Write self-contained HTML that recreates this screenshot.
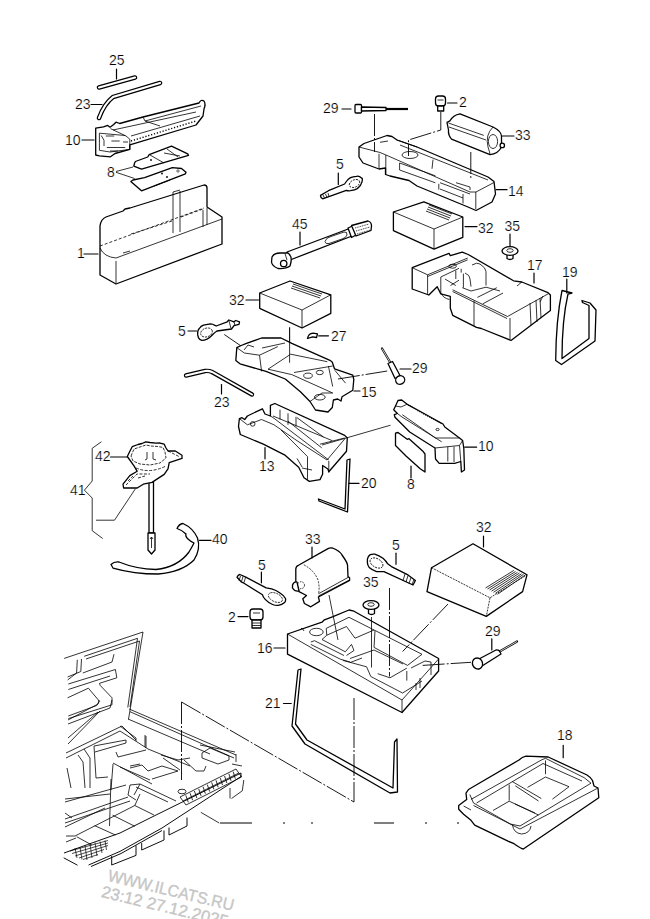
<!DOCTYPE html>
<html><head><meta charset="utf-8">
<style>
html,body{margin:0;padding:0;background:#fff;}
svg{display:block;}
text{font-family:"Liberation Sans",sans-serif;font-size:14px;fill:#000;stroke:#fff;stroke-width:0.2;}
.l{stroke:#000;stroke-width:1.2;fill:none;stroke-linejoin:round;stroke-linecap:round;}
.t{stroke:#000;stroke-width:0.8;fill:none;}
.f{stroke:#000;stroke-width:1.3;fill:#fff;stroke-linejoin:round;}
.d{stroke:#000;stroke-width:0.9;fill:none;stroke-dasharray:22 2 2 2;}
.wm{font-size:16.5px;fill:#c6c6c6;stroke:#c6c6c6;stroke-width:0.35;}
</style></head>
<body>
<svg width="650" height="919" viewBox="0 0 650 919">
<g id="labels">
<text x="109" y="65">25</text>
<text x="75" y="109">23</text>
<text x="65" y="145">10</text>
<text x="107" y="177">8</text>
<text x="77" y="258">1</text>
<text x="323" y="113">29</text>
<text x="459" y="107">2</text>
<text x="515" y="140">33</text>
<text x="336" y="169">5</text>
<text x="508" y="196">14</text>
<text x="292" y="229">45</text>
<text x="478" y="233">32</text>
<text x="504.5" y="231">35</text>
<text x="527" y="270">17</text>
<text x="562" y="277">19</text>
<text x="229" y="305">32</text>
<text x="178" y="336">5</text>
<text x="331" y="341">27</text>
<text x="412" y="373">29</text>
<text x="361" y="397">15</text>
<text x="214" y="407">23</text>
<text x="478" y="451">10</text>
<text x="259" y="471">13</text>
<text x="407" y="489">8</text>
<text x="361" y="488">20</text>
<text x="95" y="461">42</text>
<text x="70" y="495">41</text>
<text x="212" y="544">40</text>
<text x="305" y="544">33</text>
<text x="258" y="570">5</text>
<text x="392" y="550">5</text>
<text x="476" y="532">32</text>
<text x="363" y="587">35</text>
<text x="228" y="622">2</text>
<text x="257" y="653">16</text>
<text x="485" y="636">29</text>
<text x="265" y="708">21</text>
<text x="557" y="740">18</text>
</g>

<g id="p-topleft">
<!-- 25 rod -->
<path d="M99,87.5 L135,77.5" stroke="#000" stroke-width="4.6" stroke-linecap="round" fill="none"/>
<path d="M99,87.5 L135,77.5" stroke="#fff" stroke-width="2.2" stroke-linecap="round" fill="none"/>
<path class="l" d="M116.5,69 V79"/>
<!-- 23 rod -->
<path d="M99,118 Q104,104 113,97 L160,83" stroke="#000" stroke-width="4.6" stroke-linecap="round" fill="none"/>
<path d="M99,118 Q104,104 113,97 L160,83" stroke="#fff" stroke-width="2.2" stroke-linecap="round" fill="none"/>
<path class="l" d="M91,104.5 H102"/>
<!-- 10 jack top -->
<path class="f" d="M95.7,128.2 L103.5,126.8 L107.7,125.4 L110,127.2 L113.7,124.5 L116,122.2 L119.7,123.5 L143,117 L199,103 Q201,99 204,101 Q206,104 204,109 L203,116 L196,125 L129.8,144.8 V149.4 L115,153.5 L110.5,156.8 L99.4,155.8 L95.7,155 Z"/>
<path class="t" d="M110.5,128.6 L126,136 L129.8,139.2 V149.4 M99.4,133.2 V150.3 L110,152 L129.8,149.4 M99.4,133.2 L125.2,135.5 M101.2,135.5 L104,140.2 V146 M143,117 L145,121 L201,106 M131,136 L200,116 M113,130 L196,112 M145,121 L160,126"/>
<path class="t" stroke-width="1" d="M105.8,136 H114.2 M111.4,141 H119.7 M123,142 H128 M106.8,147.5 H125.2 M110,151 H118"/>
<path d="M131,141 L196,121" stroke="#000" stroke-width="1.4" stroke-dasharray="1.2 1.8" fill="none"/>
<path class="l" d="M82,140 H94"/>
<!-- 8 plates -->
<path class="f" d="M134.6,163 L133.8,166.2 L141.5,169.2 L188.5,155.4 L187.7,153.8 L171.5,146.2 L149.2,154.6 L147.7,157 L135.4,161.5 Z"/>
<path class="t" d="M150,155 L164,163 M164,153 L180,156 M167,149 L178,157"/>
<path class="f" d="M130.8,181.5 L141.5,190.8 L185.4,173.8 L186,172.3 L181.5,168.5 L172.3,167.7 L144.6,177.7 L133,180 Z"/>
<circle cx="151" cy="160" r="0.9"/><circle cx="162" cy="173.5" r="0.9"/><circle cx="167" cy="177" r="0.9"/><circle cx="178" cy="171" r="1.2" fill="none" stroke="#000" stroke-width="0.6"/>
<path class="t" d="M116,171.5 L133,167 M116,172.3 L134.6,178.5 M154,186 L170,180"/>
<!-- 1 box -->
<path class="f" d="M100,226 Q101,219 106,217 L123,211 L125,209 L130,208 L204,185 Q207,185 207,188 L207,207 L222,217 L222,244 L116,284 L100,275 L100,248 Z"/>
<path class="t" d="M100,248 Q104,257 116,258 L222,219 M116,261 V283 M203,210 V227 M207,208 V225 M173,192 V233 M180,191 V232 M173,192 L180,190 M123,253 L130,251"/>
<path class="t" stroke-dasharray="3 2" d="M100,246 L204,208 M131,234 L172,221 M181,217 L203,209"/>
<path class="l" d="M84,254 H98"/>
</g>

<g id="p-topright">
<!-- 29 bolt -->
<path class="l" d="M342,109 H351"/>
<rect x="355" y="104.5" width="6.5" height="8.5" rx="1" class="f"/>
<path class="f" d="M361.5,107 L386,107.5 L386,110.5 L361.5,111 Z"/>
<path d="M386,109 L408,109" stroke="#000" stroke-width="2.2" fill="none"/>

<!-- 2 plug -->
<rect x="435.5" y="96" width="10" height="10" rx="3" class="f"/>
<path class="t" d="M437.5,100 H443.5"/>
<rect x="437.7" y="106" width="6" height="5" class="f" stroke-width="1"/>
<path class="l" d="M447.5,103 H457"/>

<!-- 14 tray -->
<path class="f" d="M359,147 L364,143.5 L387,135.5 L392,136.5 L397,140 L417,147 L488,177 L494,181.5 L495.5,194 L492,202 L476,210.5 L468,207 L417,186 L409,180.5 L390,176 L385.5,174.5 L385.5,168 L379,169 L363,163 L359,157 Z"/>
<path class="t" d="M359,147 L380,152.5 L386,155 L470,192 L476,192 L494,182.5 M379,153.8 V168.8 M385.8,155 V174.6 M399.6,163 L435.4,175.8 M399.6,170 L435.4,182.8 M399.6,163 V170 M440,182.7 L470,194 M440,189 L463,198 M463,194 V203.5 M475.8,192 V209 M438.8,183.8 V189.6 M433,159.6 L432,168.8 M456,182.7 L470,187 V190 M380,142.3 L388,141 M397,140 L417,147 M400,145 L488,180"/>
<ellipse cx="410" cy="155" rx="8" ry="3.5" class="t"/>
<path class="l" d="M496,189.7 H507"/>

<path class="d" d="M374.5,114 V152"/>
<path class="d" d="M440.8,112 V130 L408.5,140 V156"/>
<path class="d" d="M470.8,152 V178"/>
<!-- 33 cylinder -->
<path class="f" d="M450,120.8 Q453,115 460,113.8 L493,127 Q501,131 501.5,136 L501.5,147 Q498,154 490,154.6 L451.5,139.2 Q448,135 448.5,130 L447,122.3 Z"/>
<path class="t" d="M448.5,123 L483.8,135.4 M449,127 L486,140 M493,127 Q485,135 488,147 Q490,153 490,154.6"/>
<ellipse cx="493" cy="141.5" rx="4.6" ry="7" class="t"/>
<circle cx="502.3" cy="145.4" r="2.2" class="f" stroke-width="1"/>
<path class="l" d="M502.5,136 H514"/>
<!-- 5 wrench upper -->
<path class="f" d="M320.5,195.4 Q320.5,197.5 322.6,198.8 L346.3,190.3 Q348,191 350.5,190.7 Q355,190 357.3,188.6 Q361,186 362,181.8 Q363,178 361.5,178 Q359,175.5 356.5,176.3 Q353,176.5 350.5,177.6 Q348,179 346.7,181 L344.6,184 L328.5,190.7 Z"/>
<ellipse cx="354.5" cy="183.5" rx="5.5" ry="3.6" transform="rotate(-25 354.5 183.5)" class="t" stroke-dasharray="2 1"/>
<path class="t" d="M323,195 L324.5,198 M325.5,194 L327,197.5 M328,193 L329,196.5"/>
<path class="l" d="M338.3,173 V184.5"/>
<!-- 45 extension -->
<path class="f" d="M287,252 L349.5,228.5 L352,236 L290,260 Z"/>
<path class="t" d="M325,241.5 Q326,237.5 331,236.5 L344,232 Q347.5,231.5 347,235 Q346,238 342,239 L329,243.5 Q325.5,244.5 325,241.5 Z"/>
<path class="f" d="M348,228 L352.5,226 L356,235 L351.5,237.5 Z"/>
<path class="f" d="M351.5,225.5 L368,221 Q371.5,222 371.5,226 L371,230.5 L356,236 Z"/>
<path class="t" stroke-width="0.8" stroke-dasharray="1 0.8" d="M355,228 L369,224 M356,231 L370,227 M357,234 L370.5,230"/>
<path class="f" d="M272,257 Q274,253 280,253 L288,253 Q292,256 291,262 L290,266 Q286,269 278,268.5 Q272,266 271.5,262 Z"/>
<circle cx="283.7" cy="263.5" r="3.2" class="f" stroke-width="1.1"/>
<path class="t" d="M285,253.5 L287,260"/>
<path class="l" d="M300,232 V245"/>
<!-- 32 box upper -->
<path class="f" d="M393.4,212 L423.8,201.8 L462.8,217 L462.8,237.4 L434,249.2 L393.4,230.6 Z"/>
<path class="t" d="M393.4,212 L434,229 L462.8,217 M434,229 V249"/>
<path class="t" stroke-width="0.7" d="M429,205 L452,214 M428,207 L451,216 M427,209 L450,218 M426,211 L449,220"/>
<path class="l" d="M465,226.6 H477"/>
<!-- 35 clip upper -->
<path class="f" d="M507,253 V258.5 Q510,260.5 513,258.5 V253 Z"/>
<ellipse cx="510" cy="251" rx="8" ry="4.3" class="f"/>
<ellipse cx="510" cy="250.5" rx="3.2" ry="1.8" class="t"/>
<path class="l" d="M510,234 V246"/>
<!-- 17 tray -->
<path class="f" d="M412.2,267.7 L449.1,253.3 L450.3,255.7 L462.2,252.2 L468.2,254.5 L513.5,280.8 L521.8,282 L548,292.7 L550.4,295 L550.4,310.6 L511,340.4 L481.3,328.5 L476.5,327.3 L452.7,315.3 L450.3,308.2 L450.3,296.3 L440.8,293.9 L437.2,286.7 L428.8,295 L412.2,289 Z"/>
<path class="t" d="M412.2,267.7 L427.6,274.8 L467.7,258 M427.6,276.5 L467.7,259.8 M427.6,274.8 V293.9 M440.8,277 V293 Q443,298 449.4,299.5 M440.8,277 L459,268.3 M455.8,270.5 V279 M461.2,268.8 V272.6 M445,279 L455.8,285.5 M459,280.2 L450.5,285.5 M463.4,273.7 V287.7 M465,273 Q470,275 470,279 L471,286.6 M472,265 Q477,262 480,264 Q486,268 486,271.5 V285.5 M462.3,287.7 L471,291 L486,287.2 L500,291 M452.6,289.8 L507.5,316.5 L548,293.9 M452.6,291.5 L507,318.5 M477.4,297.4 L496.8,287.7 M482.8,303.8 L503,293 M474,300.6 V326 M510,318 V339 M521.8,282 L517,286 M536,300 L537,322 M540,298 L541,318 M530,303 L531,325 M543,296 L540,302"/>
<ellipse cx="452.6" cy="266.2" rx="3.8" ry="2" class="t"/>
<path class="l" d="M534,273 V283"/>
<!-- 19 strap -->
<path class="f" stroke-width="1.4" d="M562,290.5 Q556,320 555.7,360.5 L561.5,364.5 L595,341 L596,310 L590,303 L582,300.5 L582.5,302.5 L589,305.5 L589,338.5 L562,358.5 Q562,320 568,294 L572,293 Z"/>
<path class="l" stroke-width="1.6" d="M566.8,279 V293"/>
</g>

<g id="p-mid">
<!-- 32 box mid -->
<path class="f" d="M259.7,293 L290,281 L330.8,294.8 L330.8,313.4 L302,328 L259.7,308.3 Z"/>
<path class="t" d="M259.7,293 L302,310 L330.8,294.8 M302,310 V328"/>
<path class="t" stroke-width="0.7" d="M293,284 L322,294 M292,286 L321,296 M291,288 L320,298"/>
<path class="l" d="M246,300 H258.5"/>
<path class="t" d="M289.6,328 V362.8"/>
<!-- 5 wrench mid -->
<path class="f" d="M197.6,334.5 Q197.5,330 199.3,328.5 Q201,326 203.5,325.2 L210.3,323.9 Q213,324 214.5,325.2 L216.2,326 L227.2,321.8 L228.9,320 L234,321.8 L235.7,320.5 L239.5,321.8 L239,324.3 L234,325.6 L231.5,329 L217,331 Q214,333 212.8,334.5 Q210,337.5 207,339.1 Q204,340.5 201.8,340.4 Q199,339.5 198.5,337.8 Z"/>
<ellipse cx="206.5" cy="332.5" rx="6" ry="4.3" transform="rotate(-20 206.5 332.5)" class="t" stroke-dasharray="2 1"/>
<path class="t" d="M229,321 L231,328.5 M234,322 L235,325.5"/>
<path class="l" d="M188,331 H196.5"/>
<path class="d" d="M224.3,334.5 L245.4,349"/>
<!-- 27 -->
<path class="f" stroke-width="1.2" d="M307.5,338.5 Q308.5,333.5 313,333.2 L317.5,333.8 L316.5,337.5 L312.5,336.8 Z"/>
<path class="l" d="M318.7,335.8 H328.5"/>
<!-- 15 tray -->
<path class="f" d="M236.8,347.7 L241.2,345.5 L246.5,343.4 L261.6,338 L281,338 L291.8,343.4 L330.5,360.6 L332.3,362.3 L334.5,368.8 L352.8,375.2 L353.8,379.5 L352.8,390.3 L342,396.8 L341,401 L337.7,399 L333.4,400 L332.3,407.5 L328,412 L315.5,410 L310,401.5 L300.4,391.8 L285.3,379 L266,371.4 L240,363.8 L235.8,360.6 Z"/>
<path class="t" d="M236.8,347.7 L244.4,353 L259.5,355.2 L277.8,346.6 M259.5,355.2 L261.6,371.4 M268,369.2 L290.7,354.2 L327.3,361.7 M268,369.2 L291.8,374.6 L332.7,393 M294,372.5 L332.7,366 M328.4,366 L332.7,386.5 M334.8,370.3 L345.6,383.2 M244,350 L248,345 L254,347 M262,348 L285,343 M310,401.5 L322,393 L332.7,393"/>
<ellipse cx="308" cy="375.7" rx="4.3" ry="2.6" class="t"/>
<ellipse cx="319.8" cy="372.5" rx="3.5" ry="2.2" class="t"/>
<ellipse cx="319.8" cy="397.2" rx="5.4" ry="2.8" class="t"/>
<path class="t" d="M289.6,362.8 V327"/>
<path class="l" d="M354,391 H360"/>
<path class="d" d="M338,379 L387.2,371"/>
<!-- 29 mid -->
<path d="M382,348.5 L390,362" stroke="#000" stroke-width="2.2" stroke-linecap="round" fill="none"/>
<path d="M382,348.5 L390,362" stroke="#fff" stroke-width="0.8" fill="none"/>
<path class="f" d="M388,363.5 L392.5,361.5 L400,375.5 L395,378.5 Z"/>
<ellipse cx="400.2" cy="380" rx="4.6" ry="4.2" transform="rotate(-30 400.2 380)" class="f"/>
<path class="l" stroke-width="1.6" d="M400,369 H411"/>
<!-- 23 rod mid -->
<path d="M186,375.5 L205,371 Q209,370.5 212,372 L252,394.5" stroke="#000" stroke-width="4.4" stroke-linecap="round" fill="none"/>
<path d="M186,375.5 L205,371 Q209,370.5 212,372 L252,394.5" stroke="#fff" stroke-width="2" stroke-linecap="round" fill="none"/>
<path class="l" d="M221.5,384.6 V394"/>
<!-- 13 -->
<path class="f" d="M239.4,418.6 L242,417.7 L244.7,419.5 L247.4,416 L262.4,408.8 L265,414 L270.4,416 L270.4,405.3 L274.8,403.5 L344.7,435.4 L347.3,438 L346.5,451.3 L328.8,471.7 L327.9,469 L322.6,465.5 L322.6,474.3 L320,479.6 L309.3,481.4 L304,477.8 L298.7,467.2 L284.5,454.8 L263.3,444.2 L240.3,434.5 L238.5,426.5 Z"/>
<path class="t" d="M239.4,418.6 L247.4,424.8 L261.5,419.5 L274,424.8 L297,440.7 L327,460 L344.7,439 M273,416 L332.3,440.7 M280,409.7 V419.5 M288,413.3 V424.8 M296,416.8 V426.5 M272,416.8 L328.8,460 M281,430 L307.5,456.6 M288,421.2 L321.7,447.8 M297,417.7 L323.5,437 M320,444.2 L344.7,438 M297,458.4 L302.2,467.2 M307.5,456.6 V479.6 M328.8,461 V472.5 M302,468 L312,470 M270.4,416 L272,417"/>
<circle cx="252.7" cy="423.9" r="2.3" class="t"/>
<path class="l" d="M265,447.7 V458.8"/>
<path class="t" d="M322,445 L390.5,425.2"/>
<!-- 20 -->
<path class="f" stroke-width="1.2" d="M347,460 L350,459 L347.5,512 L319,501 L318.5,499 L345,509 Z"/>
<path class="l" d="M349,483.4 H359"/>
<!-- 10 mid -->
<path class="f" d="M398,400.5 L401.7,400 L407.2,404.2 L443,424 L444.8,427 L459.5,438 L462.6,440.5 L463.8,448 L464.5,470 L461.4,472 L460.8,461.5 L454.6,463.3 L450.3,463.3 L439.2,463.3 L435.5,459 L435,448 L409.7,432 L395,417.2 L394.3,414.7 L397.4,413.5 L393.7,409.8 L395.5,406 Z"/>
<path class="t" d="M395.5,406 L401,407 L407.2,404.2 M402.3,414.7 L435.5,438 L459.5,438 M397.4,413.5 L402,417 L441.7,441.8 M435,448 L459.5,445.5 L462.6,440.5 M447.8,446.7 V461.5 M454,446.7 V462 M459.5,445.5 L460.8,461.5"/>
<path d="M408,405 L442,424" stroke="#000" stroke-width="1.3" stroke-dasharray="1 1.2" fill="none"/>
<ellipse cx="437.5" cy="429.5" rx="1.6" ry="1.1" class="t"/>
<path class="l" d="M464.8,447.2 H476.6"/>
<!-- 8 mid -->
<path class="f" d="M395.5,433.2 L398,432.5 L407.2,439.3 L409,438.7 L423.2,451.6 L425,454 L425,472 L420.2,468.8 L406,456 L395.5,445.5 Z"/>
<path class="l" d="M411,466 V478"/>
</g>

<g id="p-41">
<!-- 41 bracket -->
<path class="t" stroke-width="1.15" d="M101.4,441.8 L92.2,448.3 V481 L84.4,490.2 L92.2,498 V530.7 L102.7,538.5"/>
<path class="t" stroke-width="1.15" d="M135.4,488.8 L114.5,520.2 H96"/>
<!-- shaft -->
<path class="f" stroke-width="1" d="M149,482 H153.5 V533 H149 Z"/>
<path class="f" d="M148,533 H155 V550 L151.5,554 L148,550 Z"/>
<path class="t" d="M151.5,537 V548 M150,539 L151.5,537 L153,539"/>
<!-- 42 knob -->
<path class="f" d="M127.3,456.5 L130,451 L132.2,446.7 L138,444.5 L142,443.5 L145.8,441.8 L150,442.5 L156,443.2 L160,443 L164.2,444.2 L166,448 L168,451 L175.3,451 L182,455.3 L182,458.4 L169.2,462.7 L168,468.8 L164.2,474.4 L152,482.4 L143.3,484.2 L137.2,488 L123.6,488 L123,484.2 L129.8,475.6 L137.2,471.3 L134,465.8 Z"/>
<path class="t" stroke-dasharray="3 1.2" d="M131,456 L134,449 L140,447 L146,445 L151,446 L158,446.5 L163,447.5 L165,452 L166,458 L160,463 L150,465 L140,464 L133,461 Z"/>
<path class="t" stroke-dasharray="3 1.5" d="M136,468 Q150,474 166,466 M126,485 L137,474 L150,474 M168,451 L180,457 M138,478 L145,476 M128,481 L133,476"/>
<path class="t" d="M147,452 V459 L145,460 M153,452 V459 L156,460"/>
<path class="l" d="M110.5,457 H127"/>
<!-- 40 -->
<path class="f" d="M111,564.5 Q114,561.5 119,562 Q136,569 156,569.5 Q178,567 189,552 Q192,547 194,543 Q190,541 188,539 Q185,536 186,534 Q182,530 177,528.5 Q179,524 183,523.5 Q193,528 197.5,538 Q201,549 194,560 Q182,572 158,574 Q134,574 113,568 Z"/>
<path class="l" d="M199.5,540.4 H211"/>
</g>
<g id="p-bottom">
<!-- 33 lower -->
<path class="f" d="M295.8,569 Q296,566 298.5,565.3 L328,548.6 Q330,547.5 332.4,548 Q340,551 342,555 Q347,562 347.5,564.8 L348,576.6 L349.6,577.7 L349.6,580.4 L318.4,597 L319.5,601.4 L310.8,606.8 L304.4,603.5 L302.8,598.7 L306.5,595.5 L299,591.7 L295.8,581 Z"/>
<path class="t" stroke-dasharray="2 1.2" d="M303.8,564.8 Q314,570 318,580 Q320,588 318.4,593.8"/>
<circle cx="301" cy="585.2" r="3.5" class="t" stroke-dasharray="1.5 1"/>
<path class="f" stroke-width="1" d="M292.5,585 Q294,581 297,582 L299,591 Q295,592 292.5,588 Z"/>
<path class="t" d="M318.4,593.8 L348.5,577.2 M318.4,596 L349.6,580"/>
<path class="l" stroke-width="1.4" d="M312,547 V558"/>

<!-- 5 lower left -->
<path class="f" d="M237,577.2 Q238,575 239.8,574.5 L245.8,577.2 L266.2,587.8 L271.7,588.8 Q276,590 280,593 Q284,595.5 285.5,598.5 Q286,601 284.6,602.6 Q282,605 278.2,605.4 Q275,605.5 272.6,604.5 Q268,602.5 265.2,599.4 Q263,597 262.5,594.8 L244,583.2 L241.2,581.8 Z"/>
<ellipse cx="275.4" cy="597.5" rx="7.5" ry="4.2" transform="rotate(25 275.4 597.5)" class="t" stroke-dasharray="2 1"/>
<path class="t" d="M240.5,576 L239,580.5 M243,576.5 L241.5,581.5 M245.5,577.5 L244,582.5"/>
<path class="l" d="M261.4,572 V582.8"/>
<!-- 2 lower -->
<rect x="250" y="609" width="13" height="11" rx="3" class="f"/>
<path class="t" d="M253,613 H260"/>
<rect x="252" y="620" width="9" height="8" class="f" stroke-width="1"/>
<path class="t" d="M252,623 H261 M252,625.5 H261"/>
<path class="l" d="M238,616.6 H248"/>
<!-- 5 lower right -->
<path class="f" d="M367.4,559.2 Q368,556 370.2,554.6 Q372,554 374.8,554.2 Q379,555.5 383,558.3 Q386,561 387.7,563.8 L391.4,566.6 L408,574.9 L415.4,580.5 L413,585 L384,571.7 L376.6,571.7 Q372,570 369.2,567.5 Q367.5,565 367.4,562.9 Z"/>
<ellipse cx="376.5" cy="563" rx="7" ry="4.3" transform="rotate(30 376.5 563)" class="t" stroke-dasharray="2 1"/>
<path class="t" d="M405,574 L403,580.5 M408,575.5 L406,582 M411,577.5 L409,583.5 M414,579.5 L412,584.5"/>
<path class="l" stroke-width="1.4" d="M396,553.2 V564.3"/>
<!-- 35 lower -->
<path class="f" d="M368.5,607 V613.5 Q371.5,615.5 374.5,613.5 V607 Z"/>
<ellipse cx="371" cy="605" rx="8" ry="4.4" class="f"/>
<ellipse cx="371" cy="604.5" rx="3.2" ry="1.8" class="t"/>

<!-- 16 tray -->
<path class="f" d="M287.5,634 L322,622.2 L324.4,619.8 L333,616.7 L349,610 L354,611.2 L438.6,658.5 L438.6,671 L402,712.5 L287.5,654.2 Z"/>
<path class="t" d="M287.5,634 L402,700 L438.6,659 M402,700 V712.5"/>
<path class="t" stroke-width="0.8" d="M326.2,628.4 L349,617.3 L422,654.3 L407.5,665.4 L374,647.4 L375,630.8 M326.2,628.4 L326.8,635.2 L322,639.5 L345.3,651.8 L351.5,644.4 L354,650.5 L346.5,655.5 M326.8,635.2 L346.5,626.5 L355,638.2 L374,630 M310.8,642 L314.5,640.7 L344,655.5 M310.8,644.4 L340.4,659.2 L350,662 M342.8,660.4 L366.6,666.8 L370.8,676.5 L402.6,693 L422,681 M377.7,673.7 L390,677.8 L406.8,668.2 M350,658.5 L374,650 M350,662.6 L362,658 M374,650 L403,664 M406.8,671 V680.6 M411,668 L425,661 L431,662 V675 M416,683 V690 M420,678 V688"/>
<ellipse cx="316.4" cy="632" rx="6.8" ry="3.7" class="t"/>
<path class="t" d="M300,630 L302,628 L304,631"/>
<path class="l" d="M274,648 H285"/>

<path class="d" d="M448,604 L402.6,651.5"/>
<path class="d" d="M422.7,665.4 L471,662.3"/>
<path class="t" d="M371.5,617 V667.5"/>
<path class="d" d="M389.5,588 V676.5"/>
<path class="t" d="M329,595 L338,640"/>
<!-- 32 lower -->
<path class="f" d="M431.5,567.7 L473,543.8 L527,574.8 L522.6,591.6 L486.3,616.4 L427,591.6 Z"/>
<path class="t" stroke-dasharray="2 1" d="M431.5,567.7 L490,597.8 L527,574.8 M490,597.8 L486.3,616.4"/>
<path class="t" stroke-width="0.9" d="M485.5,588 L513.8,570.4 M487.5,589 L515.5,571.5 M489.5,590 L517.5,572.3 M491.5,591.2 L519.5,573 M493.5,592.3 L521.5,573.8 M495.5,593.3 L523.5,574.3 M497.5,594.3 L525.5,574.8"/>
<path class="l" d="M483.5,536 V547"/>
<!-- 29 lower -->
<path d="M497,653 L517,641.5" stroke="#000" stroke-width="2.2" stroke-linecap="round" fill="none"/>
<path d="M497,653 L517,641.5" stroke="#fff" stroke-width="0.8" fill="none"/>
<path class="f" d="M478,659.5 L496,650 Q499,649.5 500,652 L501,654 L482,666 Z"/>
<ellipse cx="477.5" cy="663.5" rx="5" ry="5.6" transform="rotate(-25 477.5 663.5)" class="f"/>
<path class="l" d="M491.8,638.8 V650"/>
<!-- 21 -->
<path class="f" stroke-width="1.2" d="M298,670 L301,669 L295.5,724 L307,740 L393,788 L394.5,742 L397,739 L397.5,792 L390,793 L305,744 L292,726 Z"/>
<path class="l" d="M283.5,703.5 H291.2"/>
<path class="d" d="M354,698 V802"/>
</g>

<g id="p-18">
<path class="f" d="M466,793.2 L468.5,789.5 L519,760 Q522,757 526,756.2 L548.2,757 L587,775 Q591,777.5 592.5,780.5 L594,786 L598,788 L598.8,797.8 L523.3,849 Q521,848.6 514,843.7 L508,841.2 L474.7,825.2 L471,820.3 L463.6,814.2 L458.7,809.2 V805.5 L463.6,801.8 L466.7,799.4 Z"/>
<path class="t" d="M471,799.4 L542,759.7 L545.5,758.3 L584.2,777.7 L591,783.2 M476.5,803 L543,763.5 L582,781 M473.5,803 L510.4,824 M473.5,805.5 L520,829 L598,788 M510.4,824 L520,826 L591,783.2 M469.8,794.5 L473.5,803 M509.2,784.6 V800.6 M493,810.5 L509.2,801.2 L535,813 M512.2,781.5 L541.3,798.5 M515.3,785.8 L538.5,801 M545.5,760.4 V774.2 M527.5,787.4 L545.5,777 L569,786.7 L552.4,799.2 M515,804 L538.5,815 M463.6,806 L471,810"/>
<path class="t" d="M512.5,825 Q513.5,833 521.5,834 Q530,833.5 531,826"/>
<path class="l" d="M563.2,745.4 V757.7"/>
</g>
<g id="p-car" class="t" stroke-width="0.85">
<!-- lid -->
<path d="M64.2,658.4 L143,632 L128.5,719.3 M84.2,656.3 L137.5,638.3 L127.8,707.5 M86,659 L139.5,641 L130,707"/>
<path d="M81.5,659 L80.8,671.5 L67.6,677 M77.3,659.8 L76.6,673 L67.6,680 M82.8,673 L112,662 L114,654.2 M68.3,684 L115.4,669.5 L116.8,677.8 L99.5,683.3 L100.2,685.4 L112,697.8 V704.8 L68.3,718.6 M68.3,689.5 L110,676 M67.6,697.8 L88.4,688.2 L99.5,701.3 L96.7,705.5 L68.3,716"/>
<path d="M68,720 L98,704 L99,700 M68,724 L110,708 L112,700 M68,738 L98,712 M68,744 L100,711 M129.2,709 L236,755 M130,711.7 L234,758 M128,719 L210,754"/>
<!-- floor interior -->
<path d="M66,753 L122,726 L136,740 M66,758 L120,731 L148,749 L190,766 M146,736 V748 M94,746 L126,740 V743 L95,752 M94,746 L96,778 L108,777 M116,752 L118,757 L146,750 M84,749 L90,758 V788 M78,755 L83,762 L85,788 M67,768 L71,788 M113,764 L111,790 M113,763 L152,784 M130,768 L142,765 L148,771 L162,766 L178,771 L152,779 M161,755 L178,760 L190,758"/>
<path d="M145,735 V747 M120,726 L136,738 V741 M202,753 L210,748 L229,756 V760 L218,764 L202,758 Z M236,754 V762 M232,764 L242,766 M184,760 L196,771 L204,771 L206,766 M130,766 L140,764 M163,758 L180,770 M120,767 L150,780 M200,745 L235,752"/>
<!-- floor box, rails -->
<path d="M65,799 L110,794 M65,802 L126,785 M65,819 L128,797 M65,823 L130,801 M65,827 L105,808 M65,813 L72,818 M111,779 L109.5,826 M130,785 L140,784 L176,801 M136,787 L168,802 M75,836 L134.8,805.5 L140,794 M94.6,825.6 L115.4,835 M112.6,815.2 L134.8,826.3 M134.8,805.5 L154,815 M76.6,836.7 L91.8,845 M130,785 L128,795 L136,800 M140,784 L134,795 M66,836 L75,836 M66,842 L76,838"/>
<!-- bumper -->
<path stroke-width="0.95" d="M64,853 L87.7,844.5 L120,833 L150,818 L241,773 M88.6,865 L120,851.4 L162,828 L241,776.5 M91,866.5 L121,853.5 L162,830.5 M63.7,857.8 L77.5,865.2 M111.7,856 V865 L136,855.4 V845.5 M141.7,843 V850 L164,840 V830.5 M169,827.5 V835 L187,826 V817.5 M241,773 V777"/>
<path d="M230,788 V798.5 M243.8,780 L242.3,790.8 L231.5,798.5 M200.8,812.3 L219.2,823 M180,797 L236,769 M186,805 L241.6,777 M180,797 L186,805 M236,769 L241.6,777"/>
<ellipse cx="182" cy="791.5" rx="4" ry="2.3"/>
<path stroke-width="0.8" d="M185.8,795.3 L188.3,802.3 M190.1,793.2 L192.6,800.2 M194.4,791.0 L196.8,798.0 M198.7,788.9 L201.1,795.9 M203.0,786.7 L205.4,793.7 M207.3,784.6 L209.7,791.6 M211.7,782.4 L213.9,789.4 M216.0,780.3 L218.2,787.3 M220.3,778.1 L222.5,785.1 M224.6,776.0 L226.8,783.0 M228.9,773.8 L231.0,780.8 M233.2,771.7 L235.3,778.7 M183,801 L238.8,773"/>
<path stroke-width="0.7" d="M70,851 L108,840.5 M72,853.5 L108,843 M75,856 L108,845.5 M79,858 L104,849.5 M83,859.5 L98,854.5 M75,848 L77,858 M80,847 L82,859.5 M85,845.5 L87,860 M90,844 L92,858 M95,842.5 L97,856 M100,841.5 L102,853 M105,840.5 L106.5,850"/>
</g>
<g id="p-dash" class="t">
<path class="d" d="M181.5,702 V780.5 M181.5,702 L354,802"/>
<path stroke="#000" stroke-width="1" fill="none" d="M220,823 H252 M283,823 H285 M311,823 H313 M374,823 H394 M425,823 H427 M457,823 H459"/>
</g>
<g id="wm">
<text class="wm" x="0" y="0" textLength="129" lengthAdjust="spacingAndGlyphs" transform="translate(107,880.8) rotate(13.5)">WWW.ILCATS.RU</text>
<text class="wm" x="0" y="0" textLength="130" lengthAdjust="spacingAndGlyphs" transform="translate(100.5,896.8) rotate(13.5)">23:12 27.12.2025</text>
</g>
<g id="leaders" class="l">
</g>
</svg>
</body></html>
